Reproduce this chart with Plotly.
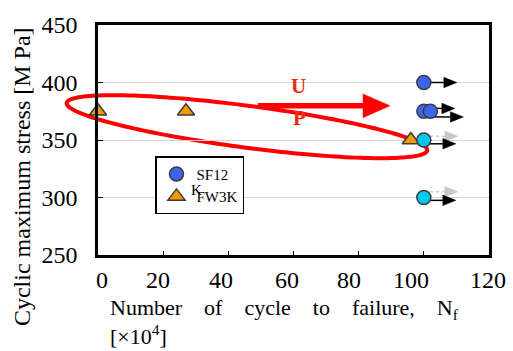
import numpy as np
import plotly.graph_objects as go

# ---- data ----
x_ticks = [0, 20, 40, 60, 80, 100, 120]
y_ticks = [250, 300, 350, 400, 450]

# SF12 specimens (blue) - run-outs
sf12_cycles = [100, 100, 102]
sf12_stress = [400, 375, 375]

# SF12 additional run-outs (cyan)
sf12b_cycles = [100, 100]
sf12b_stress = [350, 300]

# FW3K specimens (orange)
fw3k_cycles = [0, 27, 96]
fw3k_stress = [375, 375, 350]

# ---- geometry ----
W, H = 513, 351
ML, MR, MT, MB = 98, 24, 13, 96
PW = W - ML - MR
PH = H - MT - MB
XR = [0, 120]
YR = [250, 450]
FONT = "Liberation Serif, Times New Roman, serif"


def ux(px):
    return px * (XR[1] - XR[0]) / PW


def uy(px):
    return -px * (YR[1] - YR[0]) / PH


def dat_x(px):
    return XR[0] + ux(px - ML)


def dat_y(py):
    return YR[1] + uy(py - MT)


def pap_x(px):
    return (px - ML) / PW


def pap_y(py):
    return (H - MB - py) / PH


fig = go.Figure()


def add_arrow(x0, y0, lift, tip, color, width=1.5, head_len=13, head_half=5.5, dash=None):
    ys = y0 + uy(lift)
    xt = x0 + ux(tip)
    xb = xt - ux(head_len)
    fig.add_trace(go.Scatter(x=[x0, xb], y=[ys, ys], mode="lines",
                             line=dict(color=color, width=width, dash=dash),
                             showlegend=False, hoverinfo="skip"))
    fig.add_trace(go.Scatter(x=[xb, xt, xb, xb],
                             y=[ys + uy(-head_half), ys, ys + uy(head_half), ys + uy(-head_half)],
                             mode="lines", fill="toself", fillcolor=color,
                             line=dict(color=color, width=0.5),
                             showlegend=False, hoverinfo="skip"))


# grey run-out arrows behind
for xv, yv, lift in [(sf12b_cycles[0], sf12b_stress[0], -4), (sf12b_cycles[1], sf12b_stress[1], -6)]:
    add_arrow(xv, yv, lift, 34, "#c8c8c8", width=1.5, dash="dot")

# black run-out arrows
black_specs = [
    (sf12_cycles[0], sf12_stress[0], 0, 33),
    (sf12_cycles[1], sf12_stress[1], -3, 31),
    (sf12_cycles[2], sf12_stress[2], 6, 33),
    (sf12b_cycles[0], sf12b_stress[0], 4, 32),
    (sf12b_cycles[1], sf12b_stress[1], 3, 32),
]
for xv, yv, lift, tip in black_specs:
    add_arrow(xv, yv, lift, tip, "black")

# big red arrow
ry = dat_y(98)
fig.add_trace(go.Scatter(x=[dat_x(258), dat_x(366)], y=[ry, ry], mode="lines",
                         line=dict(color="#ff0000", width=5.5),
                         showlegend=False, hoverinfo="skip"))
fig.add_trace(go.Scatter(x=[dat_x(363), dat_x(390), dat_x(363), dat_x(363)],
                         y=[ry + uy(-12.5), ry, ry + uy(12.5), ry + uy(-12.5)],
                         mode="lines", fill="toself", fillcolor="#ff0000",
                         line=dict(color="#ff0000", width=0.5),
                         showlegend=False, hoverinfo="skip"))

# markers
fig.add_trace(go.Scatter(x=fw3k_cycles, y=fw3k_stress, mode="markers", name="FW3K",
                         legendrank=2, cliponaxis=False,
                         marker=dict(symbol="triangle-up", size=15, color="#f39a00",
                                     line=dict(color="#3c3c3c", width=1.5))))
fig.add_trace(go.Scatter(x=sf12_cycles, y=sf12_stress, mode="markers", name="SF12",
                         legendrank=1, cliponaxis=False,
                         marker=dict(symbol="circle", size=14, color="#3c64f0",
                                     line=dict(color="#3c3c3c", width=1.5))))
fig.add_trace(go.Scatter(x=sf12b_cycles, y=sf12b_stress, mode="markers", name="SF12 ",
                         showlegend=False, cliponaxis=False,
                         marker=dict(symbol="circle", size=14, color="#00c8f0",
                                     line=dict(color="#3c3c3c", width=1.5))))

# red ellipse around the data band
t = np.linspace(0, 2 * np.pi, 181)
cx, cy, a, b = 247, 120, 182, 22
ang = np.arctan2(50, 361)
ex = cx + a * np.cos(t) * np.cos(ang) - b * np.sin(t) * np.sin(ang)
ey = cy + a * np.cos(t) * np.sin(ang) + b * np.sin(t) * np.cos(ang)
path = "M " + " L ".join(f"{pap_x(px):.5f},{pap_y(py):.5f}" for px, py in zip(ex, ey)) + " Z"
fig.add_shape(type="path", path=path, xref="paper", yref="paper",
              line=dict(color="#ff0000", width=4), layer="below")

annotations = []
# x tick labels
label_shift = [4, -5, -7, -7, -10, -13, -1]
for v, s in zip(x_ticks, label_shift):
    annotations.append(dict(x=v, y=pap_y(281), xref="x", yref="paper", text=str(v),
                            xshift=s, showarrow=False, xanchor="center", yanchor="middle",
                            font=dict(family=FONT, size=24, color="black")))
# axis titles
gap = "\u00a0\u00a0\u00a0 "
annotations.append(dict(x=pap_x(108), y=pap_y(312), xref="paper", yref="paper",
                        text="Number" + gap + "of" + gap + "cycle" + gap + "to" + gap
                             + "failure," + gap + "N<sub>f</sub>",
                        showarrow=False, xanchor="left", yanchor="middle",
                        font=dict(family=FONT, size=22, color="black")))
annotations.append(dict(x=pap_x(108), y=pap_y(339), xref="paper", yref="paper",
                        text="[\u00d710<sup>4</sup>]",
                        showarrow=False, xanchor="left", yanchor="middle",
                        font=dict(family=FONT, size=22, color="black")))
annotations.append(dict(x=pap_x(22), y=pap_y(173), xref="paper", yref="paper",
                        text="Cyclic maximum stress [M Pa]", textangle=-90,
                        showarrow=False, xanchor="center", yanchor="middle",
                        font=dict(family=FONT, size=24, color="black")))
# red labels
annotations.append(dict(x=dat_x(298), y=dat_y(77), xref="x", yref="y", text="<b>U</b>",
                        showarrow=False, font=dict(family=FONT, size=21, color="#f02a10")))
annotations.append(dict(x=dat_x(299), y=dat_y(111), xref="x", yref="y", text="<b>P</b>",
                        showarrow=False, font=dict(family=FONT, size=21, color="#f02a10")))
# stray glyph in the legend
annotations.append(dict(x=pap_x(196), y=pap_y(187), xref="paper", yref="paper", text="K",
                        showarrow=False, xanchor="center", yanchor="middle",
                        font=dict(family=FONT, size=15, color="black")))

fig.update_layout(
    width=W, height=H,
    margin=dict(l=ML, r=MR, t=MT, b=MB, pad=0),
    paper_bgcolor="white", plot_bgcolor="rgba(0,0,0,0)",
    font=dict(family=FONT, color="black"),
    annotations=annotations,
    legend=dict(x=pap_x(155), y=pap_y(151), xanchor="left", yanchor="top",
                bgcolor="white", bordercolor="black", borderwidth=1.5,
                font=dict(family=FONT, size=15, color="black"),
                tracegroupgap=0),
    xaxis=dict(range=XR, tickvals=x_ticks, showticklabels=False, ticks="inside",
               ticklen=4, tickcolor="black", showgrid=False, zeroline=False,
               showline=True, linecolor="black", linewidth=2.5, mirror=True),
    yaxis=dict(range=YR, tickvals=y_ticks, ticks="inside", ticklen=5,
               tickcolor="black", showgrid=True, gridcolor="#d4d4d4", gridwidth=1,
               zeroline=False, showline=True, linecolor="black", linewidth=2.5,
               mirror=True, ticklabelstandoff=13,
               tickfont=dict(family=FONT, size=24, color="black")),
)

fig.write_html("out.html")
